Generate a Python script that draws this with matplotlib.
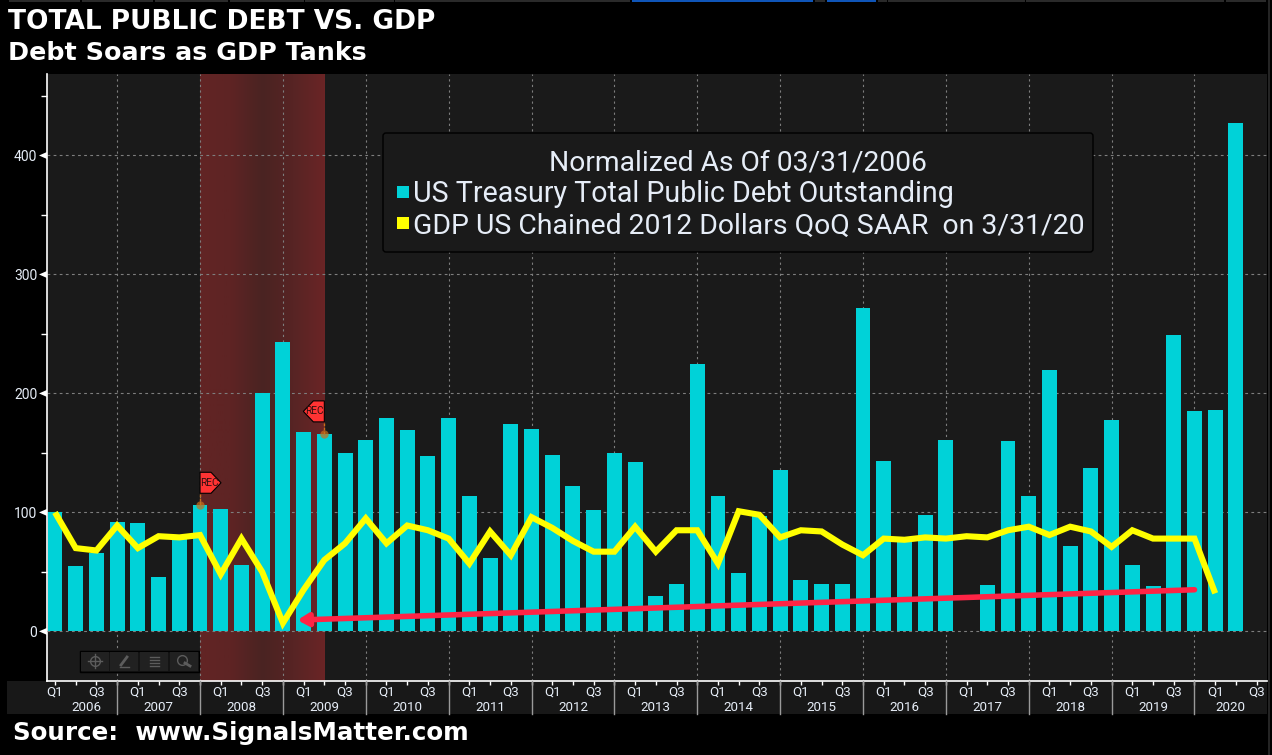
import matplotlib
matplotlib.use('Agg')
import matplotlib.pyplot as plt
import numpy as np
from matplotlib.patches import Rectangle, Polygon, FancyBboxPatch
from matplotlib.colors import LinearSegmentedColormap

# ====== data ======
years = list(range(2006, 2021))
debt = [100, 55, 66, 92, 91, 46, 78, 106, 103, 56, 200, 243, 168, 166, 150, 161,
        179, 169, 147, 179, 114, 62, 174, 170, 148, 122, 102, 150, 142, 30, 40, 225,
        114, 49, 97, 136, 43, 40, 40, 272, 143, 78, 98, 161, 0.5, 39, 160, 114,
        220, 72, 137, 178, 56, 38, 249, 185, 186, 427]
gdp = [100, 70, 68, 89, 70, 80, 79, 81, 48, 78, 50, 7, 35, 60, 74, 95,
       74, 89, 85, 78, 57, 84, 64, 96, 87, 76, 67, 67, 88, 67, 85, 85,
       57, 101, 98, 79, 85, 84, 73, 64, 78, 77, 79, 78, 80, 79, 85, 88,
       81, 88, 84, 71, 85, 78, 78, 78, 32]
y_ticks = [0, 100, 200, 300, 400]
y_minor = [50, 150, 250, 350, 450]
rec_start, rec_end = 7, 13

CYAN = '#00d2d8'
YELLOW = '#ffff00'
PANEL = '#1a1a1a'
TXT = '#e6edf7'
W, H = 1272, 755

plt.rcParams['font.family'] = ['Roboto', 'DejaVu Sans']

fig = plt.figure(figsize=(W / 100, H / 100), dpi=100, facecolor='black')
ax = fig.add_axes([47 / W, 1 - 681 / H, (1267 - 47) / W, (681 - 74) / H], facecolor=PANEL)

# 景気後退の帯（グラデーション）
cmap = LinearSegmentedColormap.from_list('rec', ['#622424', '#5e2424', '#4a2322', '#572424', '#6a2526'])
ax.imshow(np.linspace(0, 1, 64).reshape(1, -1), extent=(rec_start, rec_end, -50, 480),
          aspect='auto', cmap=cmap, zorder=0)

x = np.arange(len(debt))
ax.bar(x, debt, width=0.72, color=CYAN, zorder=2)
ax.plot(np.arange(len(gdp)), gdp, color=YELLOW, lw=4.4, solid_joinstyle='miter',
        solid_capstyle='butt', zorder=4)

ax.set_xlim(-0.386, 58.5)
ax.set_ylim(-41.7, 468.5)

# grid
for v in y_ticks:
    ax.axhline(v, color='#7e7e7e', lw=0.8, ls=(0, (2.5, 3)), zorder=1 if v else 3)
for i in range(3, len(debt), 4):
    ax.axvline(i, color='#7e7e7e', lw=0.8, ls=(0, (2, 3)), zorder=1)

for s in ['top', 'right']:
    ax.spines[s].set_visible(False)
for s in ['left', 'bottom']:
    ax.spines[s].set_color('white')
    ax.spines[s].set_linewidth(1.2)

ax.set_yticks(y_ticks)
ax.set_yticks(y_minor, minor=True)
ax.tick_params(axis='y', which='major', length=0, pad=7, labelsize=10, labelcolor=TXT)
ax.tick_params(axis='y', which='minor', length=4, color='white', width=1)
ax.set_xticks(np.arange(0, 59))
ax.set_xticklabels([('Q1' if i % 4 == 0 else 'Q3' if i % 4 == 2 else '') for i in range(59)],
                   fontsize=9.6, color=TXT)
ax.tick_params(axis='x', which='major', length=3, color='white', width=1, pad=0.5)

# 赤い矢印
ax.annotate('', xy=(11.7, 9.5), xytext=(55, 35),
            arrowprops=dict(arrowstyle='-|>,head_length=0.6,head_width=0.35', color='#ff2445', lw=4,
                            shrinkA=0, shrinkB=0), zorder=5)

# 以降はピクセル座標のオーバーレイ
ov = fig.add_axes([0, 0, 1, 1], facecolor='none')
ov.set_xlim(0, W)
ov.set_ylim(H, 0)
ov.axis('off')


def to_px(i, v):
    dx, dy = ax.transData.transform((i, v))
    return dx, H - dy


# bottom band, behind the tick labels
ax_band = fig.add_axes([7 / W, 1 - 714 / H, (1267 - 7) / W, 33 / H], facecolor='#181818', zorder=-1)
ax_band.set_xticks([])
ax_band.set_yticks([])
for s in ax_band.spines.values():
    s.set_visible(False)

year_edges = [0] + list(range(3, len(debt), 4)) + [58.5]
for k, yr in enumerate(years):
    left, right = year_edges[k], year_edges[k + 1]
    px_mid = to_px((left + right) / 2, 0)[0]
    ov.text(px_mid, 707.5, str(yr), ha='center', va='center', fontsize=9.6, color=TXT)
for i in range(3, len(debt), 4):
    px = to_px(i, 0)[0]
    ov.plot([px, px], [681, 714], color='#9a9a9a', lw=1)

# y tick arrows
for v in y_ticks:
    py = to_px(0, v)[1]
    ov.add_patch(Polygon([[39, py], [47, py - 3.5], [47, py + 3.5]], color='white', lw=0))

# title
ov.text(8, 22, 'TOTAL PUBLIC DEBT VS. GDP', family='DejaVu Sans', weight='bold', fontsize=19,
        color='white', va='center')
ov.text(8, 53, 'Debt Soars as GDP Tanks', family='DejaVu Sans', weight='bold', fontsize=18.3,
        color='white', va='center')
ov.text(13, 733, 'Source:  www.SignalsMatter.com', family='DejaVu Sans', weight='bold', fontsize=17.7,
        color='white', va='center')

# top strip
for a, b, c in [(9, 80, '#2a2a2a'), (82, 153, '#2a2a2a'), (155, 228, '#2a2a2a'), (230, 304, '#2a2a2a'),
                (305, 394, '#2a2a2a'), (395, 630, '#2a2a2a'), (632, 813, '#0f55b8'), (815, 825, '#2a2a2a'),
                (827, 876, '#0f55b8'), (878, 887, '#2a2a2a'), (888, 1025, '#2a2a2a'),
                (1026, 1224, '#2a2a2a'), (1226, 1266, '#2a2a2a')]:
    ov.add_patch(Rectangle((a, 0), b - a, 2, color=c, lw=0))
ov.add_patch(Rectangle((1268, 0), 2, H, color='#242424', lw=0))

# legend box
ov.add_patch(FancyBboxPatch((383, 133), 710, 119, boxstyle='round,pad=0,rounding_size=3',
                            fc='#1a1a1a', ec='black', lw=1, zorder=6))
ov.text(738, 163, 'Normalized As Of 03/31/2006', ha='center', va='center', fontsize=20.3, color=TXT, zorder=7)
ov.add_patch(Rectangle((397, 186), 12, 12, color=CYAN, lw=0, zorder=7))
ov.text(413, 194, 'US Treasury Total Public Debt Outstanding', va='center', fontsize=20.6, color=TXT, zorder=7)
ov.add_patch(Rectangle((397, 217), 12, 12, color=YELLOW, lw=0, zorder=7))
ov.text(413, 226, 'GDP US Chained 2012 Dollars QoQ SAAR  on 3/31/20', va='center', fontsize=20.4, color=TXT, zorder=7)

# REC markers
for i, v, d in [(7, debt[7], 1), (13, debt[13], -1)]:
    px, py = to_px(i, v)
    ov.plot([px, px], [py - 11, py], color='#c8701a', lw=1, ls=(0, (2, 1)), zorder=8)
    ov.plot([px], [py], 'o', ms=6, color='#c8701a', alpha=0.7, mew=0, zorder=8)
    top = py - 33
    pts = [[px, top], [px + d * 11, top], [px + d * 21, top + 10.5], [px + d * 11, top + 21], [px, top + 21]]
    ov.add_patch(Polygon(pts, fc='#ff3333', ec='black', lw=0.8, zorder=8))
    ov.text(px + d * 9.5, top + 10.5, 'REC', ha='center', va='center', fontsize=7.2, color='#301010', zorder=9)

# toolbar
ov.add_patch(Rectangle((79.5, 650.5), 119, 21, fc='#141414', ec='black', lw=1, zorder=6))
for k in range(4):
    ov.add_patch(Rectangle((80.5 + k * 29.7, 651.5), 28, 19, fc='#212121', lw=0, zorder=6))
ic = '#5c5c5c'
ov.plot([88, 102], [661, 661], color=ic, lw=1, zorder=7)
ov.plot([94.5, 94.5], [654, 668], color=ic, lw=1, zorder=7)
ov.plot([94.5], [661], 'o', ms=7, mfc='none', mec=ic, mew=1, zorder=7)
ov.plot([121, 127], [665, 657], color=ic, lw=2, zorder=7)
ov.plot([120, 129], [666.5, 666.5], color=ic, lw=1, zorder=7)
for yy in [657, 660, 663, 666]:
    ov.plot([150, 159], [yy, yy], color=ic, lw=1, zorder=7)
ov.plot([182], [660], 'o', ms=7, mfc='none', mec=ic, mew=1, zorder=7)
ov.plot([185, 190], [663, 666], color=ic, lw=2, zorder=7)

fig.savefig('out.png', dpi=100, facecolor='black')
